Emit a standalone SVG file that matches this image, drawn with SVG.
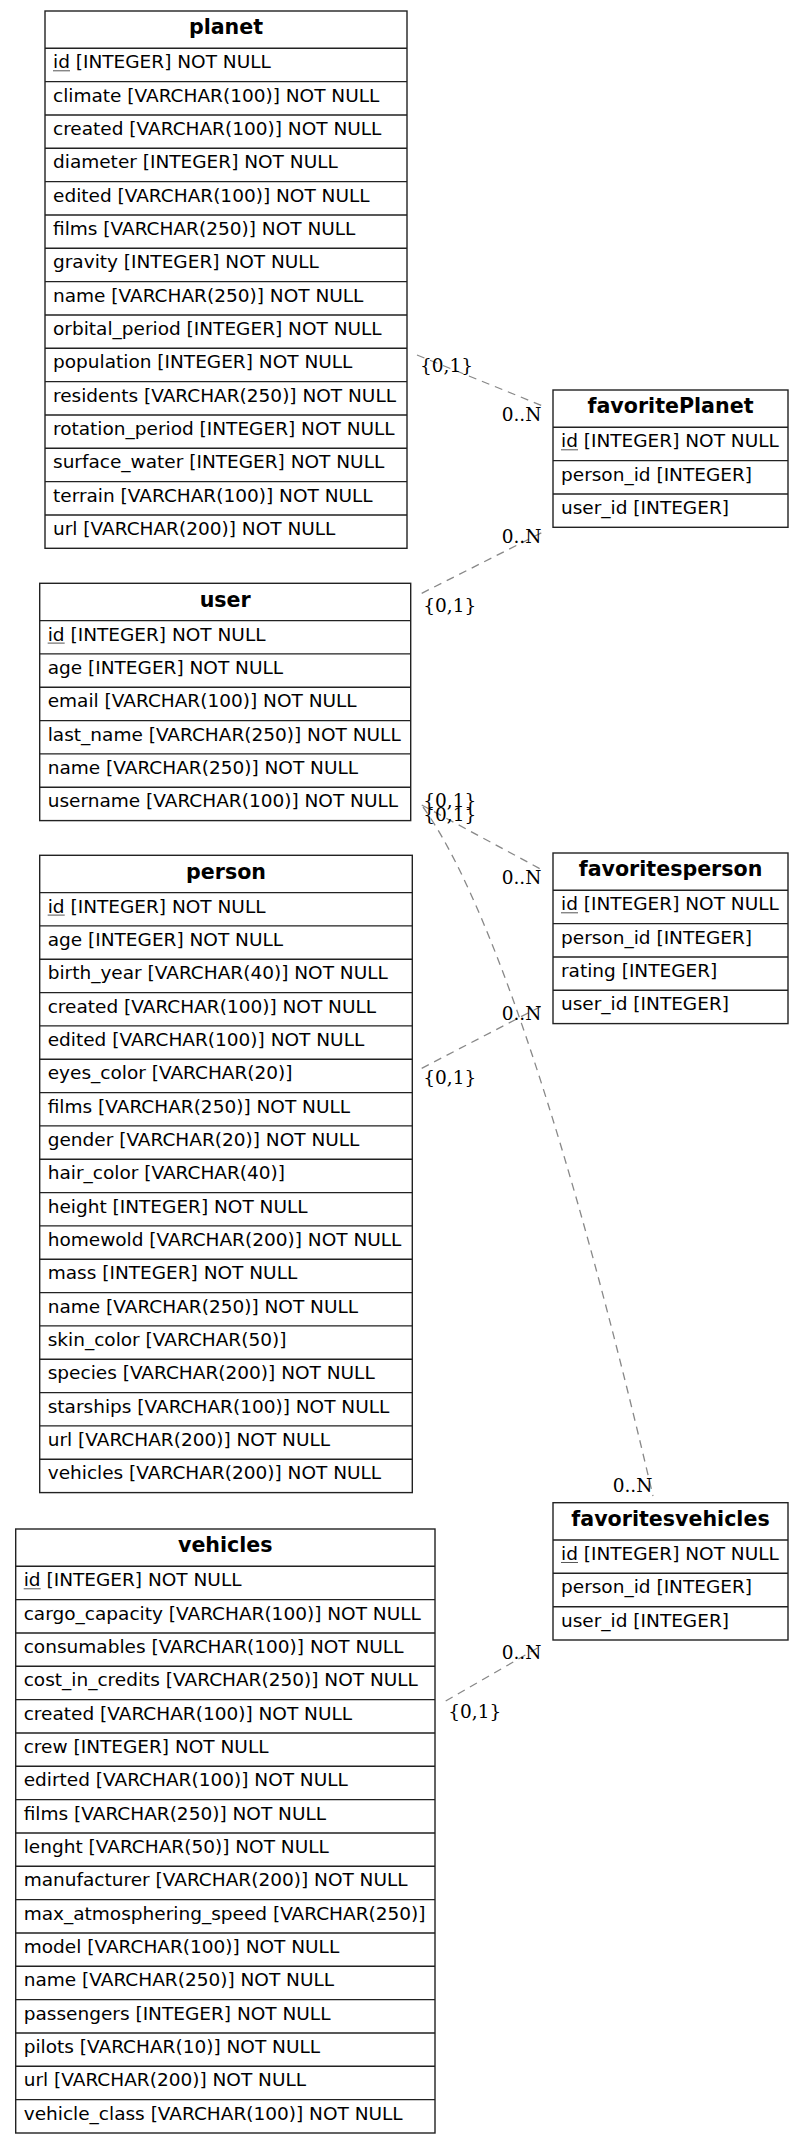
<svg xmlns="http://www.w3.org/2000/svg" width="804" height="2143" viewBox="0 0 804 2143">
<style>
.bg{fill:#fff}
.box{fill:#fff;stroke:#222;stroke-width:1.4}
.sep{fill:none;stroke:#222;stroke-width:1.4}
.h{font-family:"DejaVu Sans",sans-serif;font-weight:bold;font-size:20.6px;text-anchor:middle;fill:#000}
.r{font-family:"DejaVu Sans",sans-serif;font-size:18.5px;fill:#000}
.u{stroke:#555;stroke-width:1}
.lbl{font-family:"DejaVu Serif",serif;font-size:18.5px;fill:#000}
.edge{fill:none;stroke:#888;stroke-width:1.3;stroke-dasharray:8,6}
</style>
<rect class="bg" x="0" y="0" width="804" height="2143"/>

<g id="connectors">
<path class="edge" d="M417,355 L543,406"/>
<path class="edge" d="M421.7,593.3 L541.7,532.7"/>
<path class="edge" d="M421.7,805 L542.3,870"/>
<path class="edge" d="M423,807 C490,900 572,1150 653,1496"/>
<path class="edge" d="M421.7,1068.3 L541.7,1006"/>
<path class="edge" d="M445.7,1701 L542.7,1645"/>
<text class="lbl" x="420" y="372">{0,1}</text>
<text class="lbl" x="501.7" y="421">0..N</text>
<text class="lbl" x="501.7" y="542.7">0..N</text>
<text class="lbl" x="423.3" y="611.7">{0,1}</text>
<text class="lbl" x="423.3" y="806.7">{0,1}</text>
<text class="lbl" x="423.3" y="820.7">{0,1}</text>
<text class="lbl" x="501.7" y="884">0..N</text>
<text class="lbl" x="501.7" y="1020">0..N</text>
<text class="lbl" x="423.3" y="1084.3">{0,1}</text>
<text class="lbl" x="612.7" y="1491.7">0..N</text>
<text class="lbl" x="501.7" y="1659.3">0..N</text>
<text class="lbl" x="448.3" y="1718.3">{0,1}</text>
</g>

<g id="planet" transform="translate(45,11)">
<rect class="box" x="0" y="0" width="362" height="537.3"/>
<path class="sep" d="M0,37.3H362M0,70.6H362M0,104H362M0,137.3H362M0,170.6H362M0,204H362M0,237.3H362M0,270.6H362M0,304H362M0,337.3H362M0,370.6H362M0,404H362M0,437.3H362M0,470.6H362M0,504H362"/>
<text class="h" x="181" y="23.3">planet</text>
<text class="r" x="8" y="57.3">id [INTEGER] NOT NULL</text>
<line class="u" x1="8" y1="59.8" x2="25" y2="59.8"/>
<text class="r" x="8" y="90.6">climate [VARCHAR(100)] NOT NULL</text>
<text class="r" x="8" y="124">created [VARCHAR(100)] NOT NULL</text>
<text class="r" x="8" y="157.3">diameter [INTEGER] NOT NULL</text>
<text class="r" x="8" y="190.6">edited [VARCHAR(100)] NOT NULL</text>
<text class="r" x="8" y="224">films [VARCHAR(250)] NOT NULL</text>
<text class="r" x="8" y="257.3">gravity [INTEGER] NOT NULL</text>
<text class="r" x="8" y="290.6">name [VARCHAR(250)] NOT NULL</text>
<text class="r" x="8" y="324">orbital_period [INTEGER] NOT NULL</text>
<text class="r" x="8" y="357.3">population [INTEGER] NOT NULL</text>
<text class="r" x="8" y="390.6">residents [VARCHAR(250)] NOT NULL</text>
<text class="r" x="8" y="424">rotation_period [INTEGER] NOT NULL</text>
<text class="r" x="8" y="457.3">surface_water [INTEGER] NOT NULL</text>
<text class="r" x="8" y="490.6">terrain [VARCHAR(100)] NOT NULL</text>
<text class="r" x="8" y="524">url [VARCHAR(200)] NOT NULL</text>
</g>

<g id="favoritePlanet" transform="translate(553,390)">
<rect class="box" x="0" y="0" width="235" height="137.3"/>
<path class="sep" d="M0,37.3H235M0,70.6H235M0,104H235"/>
<text class="h" x="117.5" y="23.3">favoritePlanet</text>
<text class="r" x="8" y="57.3">id [INTEGER] NOT NULL</text>
<line class="u" x1="8" y1="59.8" x2="25" y2="59.8"/>
<text class="r" x="8" y="90.6">person_id [INTEGER]</text>
<text class="r" x="8" y="124">user_id [INTEGER]</text>
</g>

<g id="user" transform="translate(39.7,583.3)">
<rect class="box" x="0" y="0" width="371" height="237.3"/>
<path class="sep" d="M0,37.3H371M0,70.6H371M0,104H371M0,137.3H371M0,170.6H371M0,204H371"/>
<text class="h" x="185.5" y="23.3">user</text>
<text class="r" x="8" y="57.3">id [INTEGER] NOT NULL</text>
<line class="u" x1="8" y1="59.8" x2="25" y2="59.8"/>
<text class="r" x="8" y="90.6">age [INTEGER] NOT NULL</text>
<text class="r" x="8" y="124">email [VARCHAR(100)] NOT NULL</text>
<text class="r" x="8" y="157.3">last_name [VARCHAR(250)] NOT NULL</text>
<text class="r" x="8" y="190.6">name [VARCHAR(250)] NOT NULL</text>
<text class="r" x="8" y="224">username [VARCHAR(100)] NOT NULL</text>
</g>

<g id="person" transform="translate(39.7,855.3)">
<rect class="box" x="0" y="0" width="372.6" height="637.3"/>
<path class="sep" d="M0,37.3H372.6M0,70.6H372.6M0,104H372.6M0,137.3H372.6M0,170.6H372.6M0,204H372.6M0,237.3H372.6M0,270.6H372.6M0,304H372.6M0,337.3H372.6M0,370.6H372.6M0,404H372.6M0,437.3H372.6M0,470.6H372.6M0,504H372.6M0,537.3H372.6M0,570.6H372.6M0,604H372.6"/>
<text class="h" x="186.3" y="23.3">person</text>
<text class="r" x="8" y="57.3">id [INTEGER] NOT NULL</text>
<line class="u" x1="8" y1="59.8" x2="25" y2="59.8"/>
<text class="r" x="8" y="90.6">age [INTEGER] NOT NULL</text>
<text class="r" x="8" y="124">birth_year [VARCHAR(40)] NOT NULL</text>
<text class="r" x="8" y="157.3">created [VARCHAR(100)] NOT NULL</text>
<text class="r" x="8" y="190.6">edited [VARCHAR(100)] NOT NULL</text>
<text class="r" x="8" y="224">eyes_color [VARCHAR(20)]</text>
<text class="r" x="8" y="257.3">films [VARCHAR(250)] NOT NULL</text>
<text class="r" x="8" y="290.6">gender [VARCHAR(20)] NOT NULL</text>
<text class="r" x="8" y="324">hair_color [VARCHAR(40)]</text>
<text class="r" x="8" y="357.3">height [INTEGER] NOT NULL</text>
<text class="r" x="8" y="390.6">homewold [VARCHAR(200)] NOT NULL</text>
<text class="r" x="8" y="424">mass [INTEGER] NOT NULL</text>
<text class="r" x="8" y="457.3">name [VARCHAR(250)] NOT NULL</text>
<text class="r" x="8" y="490.6">skin_color [VARCHAR(50)]</text>
<text class="r" x="8" y="524">species [VARCHAR(200)] NOT NULL</text>
<text class="r" x="8" y="557.3">starships [VARCHAR(100)] NOT NULL</text>
<text class="r" x="8" y="590.6">url [VARCHAR(200)] NOT NULL</text>
<text class="r" x="8" y="624">vehicles [VARCHAR(200)] NOT NULL</text>
</g>

<g id="favoritesperson" transform="translate(553,853)">
<rect class="box" x="0" y="0" width="235" height="170.6"/>
<path class="sep" d="M0,37.3H235M0,70.6H235M0,104H235M0,137.3H235"/>
<text class="h" x="117.5" y="23.3">favoritesperson</text>
<text class="r" x="8" y="57.3">id [INTEGER] NOT NULL</text>
<line class="u" x1="8" y1="59.8" x2="25" y2="59.8"/>
<text class="r" x="8" y="90.6">person_id [INTEGER]</text>
<text class="r" x="8" y="124">rating [INTEGER]</text>
<text class="r" x="8" y="157.3">user_id [INTEGER]</text>
</g>

<g id="favoritesvehicles" transform="translate(553,1502.7)">
<rect class="box" x="0" y="0" width="235" height="137.3"/>
<path class="sep" d="M0,37.3H235M0,70.6H235M0,104H235"/>
<text class="h" x="117.5" y="23.3">favoritesvehicles</text>
<text class="r" x="8" y="57.3">id [INTEGER] NOT NULL</text>
<line class="u" x1="8" y1="59.8" x2="25" y2="59.8"/>
<text class="r" x="8" y="90.6">person_id [INTEGER]</text>
<text class="r" x="8" y="124">user_id [INTEGER]</text>
</g>

<g id="vehicles" transform="translate(15.7,1529)">
<rect class="box" x="0" y="0" width="419.3" height="604"/>
<path class="sep" d="M0,37.3H419.3M0,70.6H419.3M0,104H419.3M0,137.3H419.3M0,170.6H419.3M0,204H419.3M0,237.3H419.3M0,270.6H419.3M0,304H419.3M0,337.3H419.3M0,370.6H419.3M0,404H419.3M0,437.3H419.3M0,470.6H419.3M0,504H419.3M0,537.3H419.3M0,570.6H419.3"/>
<text class="h" x="209.6" y="23.3">vehicles</text>
<text class="r" x="8" y="57.3">id [INTEGER] NOT NULL</text>
<line class="u" x1="8" y1="59.8" x2="25" y2="59.8"/>
<text class="r" x="8" y="90.6">cargo_capacity [VARCHAR(100)] NOT NULL</text>
<text class="r" x="8" y="124">consumables [VARCHAR(100)] NOT NULL</text>
<text class="r" x="8" y="157.3">cost_in_credits [VARCHAR(250)] NOT NULL</text>
<text class="r" x="8" y="190.6">created [VARCHAR(100)] NOT NULL</text>
<text class="r" x="8" y="224">crew [INTEGER] NOT NULL</text>
<text class="r" x="8" y="257.3">edirted [VARCHAR(100)] NOT NULL</text>
<text class="r" x="8" y="290.6">films [VARCHAR(250)] NOT NULL</text>
<text class="r" x="8" y="324">lenght [VARCHAR(50)] NOT NULL</text>
<text class="r" x="8" y="357.3">manufacturer [VARCHAR(200)] NOT NULL</text>
<text class="r" x="8" y="390.6">max_atmosphering_speed [VARCHAR(250)]</text>
<text class="r" x="8" y="424">model [VARCHAR(100)] NOT NULL</text>
<text class="r" x="8" y="457.3">name [VARCHAR(250)] NOT NULL</text>
<text class="r" x="8" y="490.6">passengers [INTEGER] NOT NULL</text>
<text class="r" x="8" y="524">pilots [VARCHAR(10)] NOT NULL</text>
<text class="r" x="8" y="557.3">url [VARCHAR(200)] NOT NULL</text>
<text class="r" x="8" y="590.6">vehicle_class [VARCHAR(100)] NOT NULL</text>
</g>
</svg>
